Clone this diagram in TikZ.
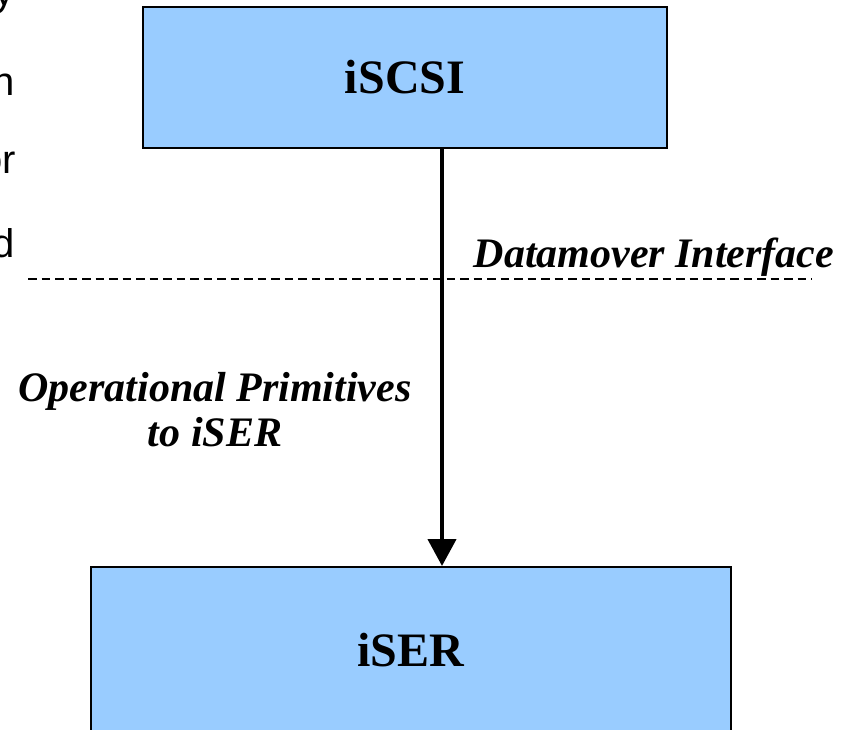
\documentclass[tikz,border=0pt]{standalone}
\usepackage{fontspec}
\setmainfont{Liberation Serif}
\newfontfamily\arialfont{Liberation Sans}
\usetikzlibrary{arrows.meta}
\definecolor{boxblue}{HTML}{99CCFF}
\tikzset{
  layerbox/.style={draw=black, line width=2pt, fill=boxblue, inner sep=0pt,
    font=\fontsize{48}{52}\selectfont\bfseries},
  flowarrow/.style={line width=4.3pt, -{Triangle[length=27pt,width=28pt]}},
  ifline/.style={line width=2pt, dash pattern=on 8.5pt off 5pt},
  italabel/.style={font=\fontsize{42}{45}\selectfont\bfseries\itshape, inner sep=0pt},
  edgetext/.style={font=\arialfont\fontsize{40}{44}\selectfont, inner sep=0pt, anchor=base east}
}
\begin{document}
\begin{tikzpicture}[x=1pt,y=-1pt]
\useasboundingbox (0,0) rectangle (843,729);
\clip (0,0) rectangle (843,729);
\fill[white] (0,0) rectangle (843,729);
% boxes
\node[layerbox, minimum width=524pt, minimum height=141pt] (iscsi) at (405,77.5) {iSCSI};
\node[layerbox, minimum width=640pt, minimum height=166pt] (iser) at (411,650) {iSER};
% arrow
\coordinate (ax) at (442,0);
\draw[flowarrow] (iscsi.south -| ax) -- (iser.north -| ax);
% dashed interface line
\coordinate (dl) at (28,279);
\coordinate (dr) at (812,279);
\draw[ifline] (dl) -- (dr);
% labels
\node[italabel, anchor=base] (dmi) at (654,267) {Datamover Interface};
\node[italabel, anchor=base] (op1) at (215,401) {Operational Primitives};
\node[italabel, anchor=base] (op2) at (215,446) {to iSER};
% clipped text fragments at the left edge
\node[edgetext] (f1) at (15,5) {y};
\node[edgetext] (f2) at (15,95) {n};
\node[edgetext] (f3) at (16,173) {or};
\node[edgetext] (f4) at (15,257) {d};
\end{tikzpicture}
\end{document}
